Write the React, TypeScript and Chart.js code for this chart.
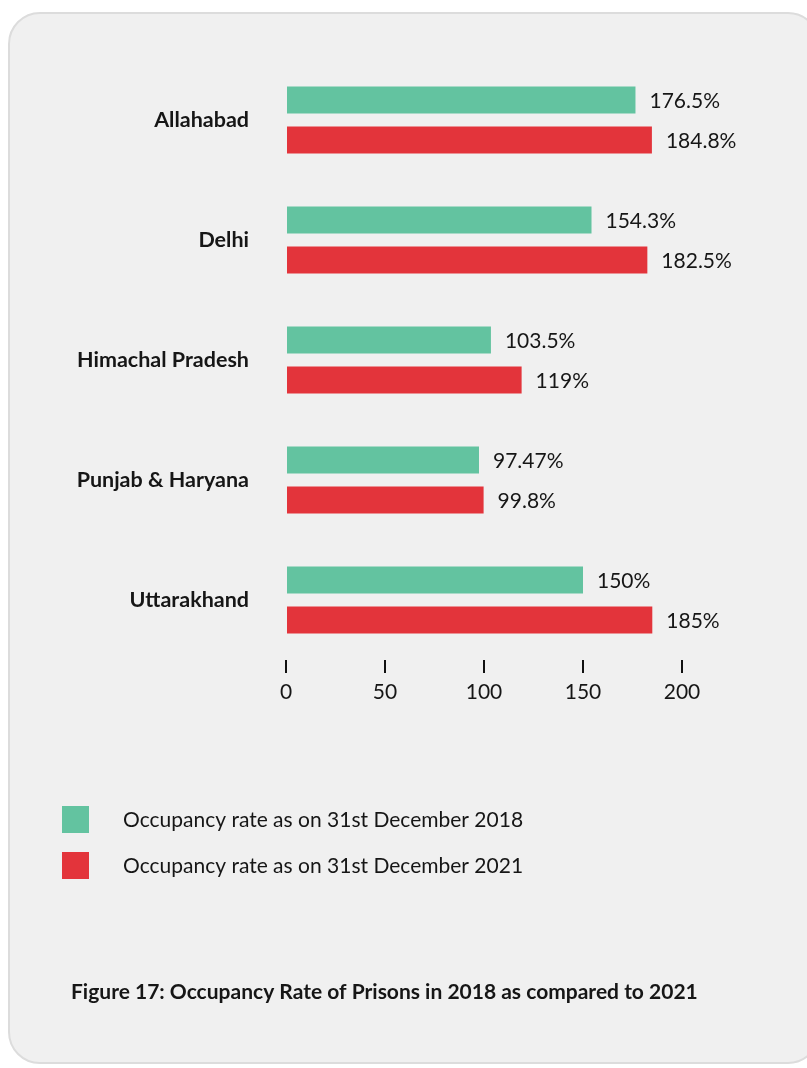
import React, { useEffect, useRef } from "react";
import { Chart, registerables } from "chart.js";

Chart.register(...registerables);

const categories = ["Allahabad", "Delhi", "Himachal Pradesh", "Punjab & Haryana", "Uttarakhand"];
const rate2018 = [176.5, 154.3, 103.5, 97.47, 150];
const rate2021 = [184.8, 182.5, 119, 99.8, 185];
const xTickValues = [0, 50, 100, 150, 200];
const seriesLabels = [
  "Occupancy rate as on 31st December 2018",
  "Occupancy rate as on 31st December 2021",
];
const seriesColors = ["#63c3a0", "#e3343b"];
const caption = "Figure 17: Occupancy Rate of Prisons in 2018 as compared to 2021";

const TEXT = "#161616";
const FONT = "Lato";

const valueLabelPlugin = {
  id: "valueLabels",
  afterDatasetsDraw(chart: any) {
    const ctx = chart.ctx;
    ctx.save();
    ctx.font = `21px ${FONT}`;
    ctx.fillStyle = TEXT;
    ctx.textAlign = "left";
    ctx.textBaseline = "middle";
    chart.data.datasets.forEach((ds: any, di: number) => {
      const meta = chart.getDatasetMeta(di);
      meta.data.forEach((bar: any, i: number) => {
        ctx.fillText(`${ds.data[i]}%`, bar.x + 14, bar.y + 1);
      });
    });
    ctx.restore();
  },
};

const legendCaptionPlugin = {
  id: "legendCaption",
  afterDraw(chart: any) {
    const ctx = chart.ctx;
    ctx.save();
    chart.data.datasets.forEach((ds: any, di: number) => {
      const y = 806 + di * 46;
      ctx.fillStyle = ds.backgroundColor;
      ctx.fillRect(62, y, 27, 27);
      ctx.fillStyle = TEXT;
      ctx.font = `21px ${FONT}`;
      ctx.textAlign = "left";
      ctx.textBaseline = "middle";
      ctx.fillText(ds.label, 123, y + 14);
    });
    ctx.font = `bold 21px ${FONT}`;
    ctx.fillStyle = TEXT;
    ctx.textAlign = "left";
    ctx.textBaseline = "middle";
    ctx.fillText(caption, 71, 992);
    ctx.restore();
  },
};

export default function App() {
  const canvasRef = useRef<HTMLCanvasElement | null>(null);

  useEffect(() => {
    document.body.style.margin = "0";
    const canvas = canvasRef.current;
    if (!canvas) return;
    const chart = new Chart(canvas, {
      type: "bar",
      data: {
        labels: categories,
        datasets: [
          {
            label: seriesLabels[0],
            data: rate2018,
            backgroundColor: seriesColors[0],
            barPercentage: 0.675,
            categoryPercentage: 0.667,
          },
          {
            label: seriesLabels[1],
            data: rate2021,
            backgroundColor: seriesColors[1],
            barPercentage: 0.675,
            categoryPercentage: 0.667,
          },
        ],
      },
      options: {
        indexAxis: "y",
        responsive: false,
        maintainAspectRatio: false,
        animation: false,
        devicePixelRatio: 1,
        layout: { padding: { left: 0, right: 125, top: 60, bottom: 348 } },
        plugins: {
          legend: { display: false },
          tooltip: { enabled: false },
        },
        scales: {
          x: {
            type: "linear",
            min: 0,
            max: 200,
            afterBuildTicks: (scale: any) => {
              scale.ticks = xTickValues.map((v) => ({ value: v }));
            },
            afterFit: (scale: any) => {
              scale.height = 60;
            },
            ticks: {
              color: TEXT,
              font: { family: FONT, size: 21 },
              padding: 7,
            },
            grid: {
              drawOnChartArea: false,
              drawTicks: true,
              tickLength: 13,
              color: "#111111",
              lineWidth: 2,
            },
            border: { display: false },
          },
          y: {
            afterFit: (scale: any) => {
              scale.width = 286;
            },
            ticks: {
              color: TEXT,
              font: { family: FONT, size: 21.5, weight: "bold" },
              padding: 37,
            },
            grid: { display: false, drawTicks: false },
            border: { display: false },
          },
        },
      },
      plugins: [valueLabelPlugin, legendCaptionPlugin],
    });
    return () => chart.destroy();
  }, []);

  return (
    <div style={{ position: "relative", width: 807, height: 1068, overflow: "hidden" }}>
      <div
        style={{
          position: "absolute",
          left: 8,
          top: 12,
          width: 812,
          height: 1052,
          background: "#f0f0f0",
          border: "2px solid #dcdcdc",
          borderRadius: 32,
          boxSizing: "border-box",
        }}
      />
      <canvas
        ref={canvasRef}
        width={807}
        height={1068}
        style={{ position: "absolute", left: 0, top: 0, width: 807, height: 1068 }}
      />
    </div>
  );
}
